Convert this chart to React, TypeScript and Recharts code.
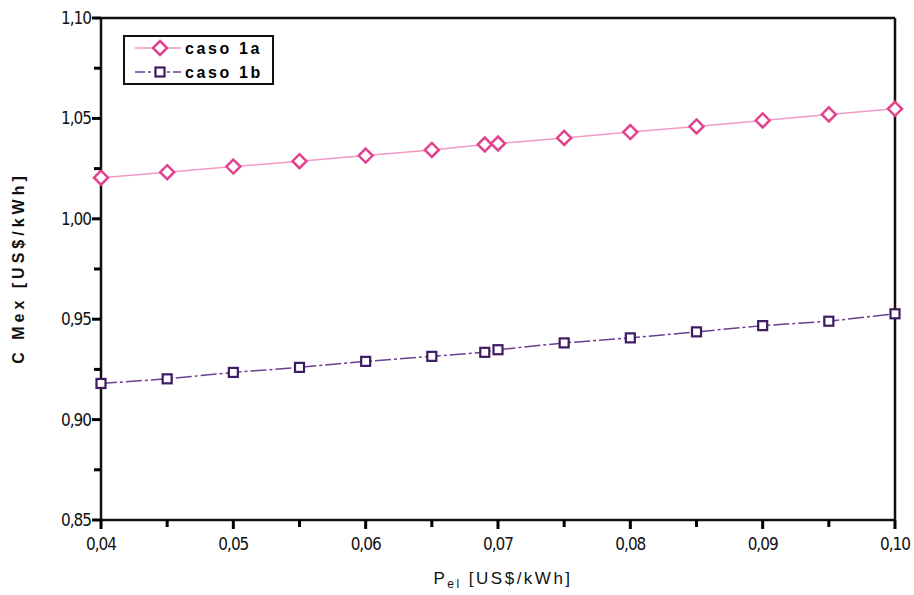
import { LineChart, Line, XAxis, YAxis, ReferenceLine } from "recharts";

const pel = [0.04, 0.045, 0.05, 0.055, 0.06, 0.065, 0.069, 0.07, 0.075, 0.08, 0.085, 0.09, 0.095, 0.1];
const caso1a = [1.0205, 1.0232, 1.026, 1.0287, 1.0315, 1.0343, 1.037, 1.0375, 1.0403, 1.0432, 1.046, 1.049, 1.052, 1.0548];
const caso1b = [0.918, 0.9203, 0.9235, 0.926, 0.929, 0.9315, 0.9335, 0.9348, 0.9382, 0.9407, 0.9437, 0.9468, 0.949, 0.9527];

const xTicks = [0.04, 0.045, 0.05, 0.055, 0.06, 0.065, 0.07, 0.075, 0.08, 0.085, 0.09, 0.095, 0.1];
const yTicks = [0.85, 0.875, 0.9, 0.925, 0.95, 0.975, 1.0, 1.025, 1.05, 1.075, 1.1];

const data = pel.map((x, i) => ({ x, a: caso1a[i], b: caso1b[i] }));

const PINK = "#e2428e";
const PINK_LINE = "#f29ac6";
const PURPLE = "#3e1a63";
const PURPLE_LINE = "#6a4090";
const tickFont = "'DejaVu Sans Condensed', 'Liberation Sans Narrow', 'Liberation Sans', Arial, sans-serif";

const fmt = (v: number) => v.toFixed(2).replace(".", ",");

// tickSize/tickMargin are 0, so x/y here sit on the axis line
function XTick(props: any) {
  const { x, y, payload } = props;
  const minor = Math.round(payload.value * 1000) % 10 !== 0;
  return (
    <g>
      <rect x={x - 1.5} y={y} width={3} height={minor ? 7 : 9} fill="#000" />
      {!minor && (
        <text x={x} y={y + 30} textAnchor="middle" fontFamily={tickFont} fontSize={17} letterSpacing={-1} fill="#111">
          {fmt(payload.value)}
        </text>
      )}
    </g>
  );
}

function YTick(props: any) {
  const { x, y, payload } = props;
  const minor = Math.round(payload.value * 1000) % 50 !== 0;
  return (
    <g>
      <rect x={x - (minor ? 7 : 9)} y={y - 1.5} width={minor ? 7 : 9} height={3} fill="#000" />
      {!minor && (
        <text x={x - 10} y={y + 6} textAnchor="end" fontFamily={tickFont} fontSize={17} letterSpacing={-1} fill="#111">
          {fmt(payload.value)}
        </text>
      )}
    </g>
  );
}

function Diamond(props: any) {
  const { cx, cy } = props;
  const r = 7;
  return (
    <path
      d={`M${cx},${cy - r} L${cx + r},${cy} L${cx},${cy + r} L${cx - r},${cy} Z`}
      fill="#fff"
      stroke={PINK}
      strokeWidth={2.5}
    />
  );
}

function Square(props: any) {
  const { cx, cy } = props;
  return <rect x={cx - 4.5} y={cy - 4.5} width={9} height={9} fill="#fff" stroke={PURPLE} strokeWidth={2.2} />;
}

export default function App() {
  return (
    <div style={{ position: "absolute", left: 0, top: 0, width: 914, height: 595, background: "#fff" }}>
      <LineChart width={914} height={595} data={data} margin={{ top: 18, right: 19, left: 41, bottom: 25 }}>
        <XAxis
          dataKey="x"
          type="number"
          domain={[0.04, 0.1]}
          ticks={xTicks}
          interval={0}
          height={50}
          tickSize={0}
          tickMargin={0}
          tickLine={false}
          tick={<XTick />}
          axisLine={{ stroke: "#111", strokeWidth: 2.5 }}
          label={{
            content: () => (
              <text x={503} y={584} textAnchor="middle" fontFamily="'Liberation Sans', Arial, sans-serif" fontSize={17} fill="#111" letterSpacing={2.5}>
                P<tspan fontSize={12} dy={4}>el</tspan>
                <tspan dy={-4}>{"  [US$/kWh]"}</tspan>
              </text>
            ),
          }}
        />
        <YAxis
          type="number"
          domain={[0.85, 1.1]}
          ticks={yTicks}
          interval={0}
          width={60}
          tickSize={0}
          tickMargin={0}
          tickLine={false}
          tick={<YTick />}
          axisLine={{ stroke: "#111", strokeWidth: 2.5 }}
          label={{
            content: () => (
              <text
                x={24}
                y={268}
                transform="rotate(-90 24 268)"
                textAnchor="middle"
                fontFamily="'Liberation Sans', Arial, sans-serif"
                fontWeight="bold"
                fontSize={16}
                fill="#111"
                letterSpacing={4}
              >
                C Mex [US$/kWh]
              </text>
            ),
          }}
        />
        <ReferenceLine y={1.1} stroke="#111" strokeWidth={2.5} />
        <ReferenceLine x={0.1} stroke="#111" strokeWidth={2.5} />
        <Line
          dataKey="a"
          stroke={PINK_LINE}
          strokeWidth={1.5}
          dot={<Diamond />}
          activeDot={false}
          isAnimationActive={false}
        />
        <Line
          dataKey="b"
          stroke={PURPLE_LINE}
          strokeWidth={1.5}
          strokeDasharray="16 3 3 3"
          dot={<Square />}
          activeDot={false}
          isAnimationActive={false}
        />
      </LineChart>
      <div
        style={{
          position: "absolute",
          left: 123,
          top: 35,
          width: 147,
          height: 46,
          border: "2px solid #111",
          background: "#fff",
          fontFamily: "'Liberation Sans', Arial, sans-serif",
          fontWeight: "bold",
          fontSize: 16,
          letterSpacing: 2.6,
          color: "#111",
        }}
      >
        <svg width={147} height={46} style={{ position: "absolute", left: 0, top: 0 }}>
          <line x1={10} x2={56} y1={11} y2={11} stroke={PINK_LINE} strokeWidth={1.5} />
          <path d="M35,4 L42,11 L35,18 L28,11 Z" fill="#fff" stroke={PINK} strokeWidth={2.5} />
          <line x1={10} x2={56} y1={35} y2={35} stroke={PURPLE_LINE} strokeWidth={1.5} strokeDasharray="10 3 3 3" />
          <rect x={30.5} y={30.5} width={9} height={9} fill="#fff" stroke={PURPLE} strokeWidth={2.2} />
          <text x={60} y={17}>caso 1a</text>
          <text x={60} y={41}>caso 1b</text>
        </svg>
      </div>
    </div>
  );
}
